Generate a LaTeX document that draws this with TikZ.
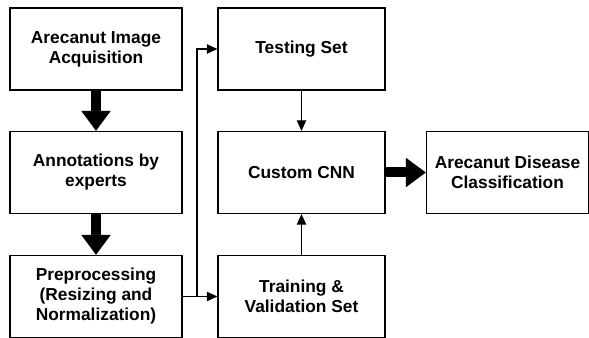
\documentclass[tikz,border=0pt]{standalone}
\usepackage{fontspec}
\setmainfont{Liberation Sans}
\usetikzlibrary{arrows.meta}
\begin{document}
\begin{tikzpicture}[x=0.75pt,y=-0.75pt,
  box/.style={draw, line width=0.8pt, minimum width=172*0.75pt, minimum height=82*0.75pt, align=center, font=\bfseries\fontsize{13pt}{15pt}\selectfont, inner sep=0pt},
  wbox/.style={box, minimum width=167*0.75pt},
  rbox/.style={box, minimum width=162*0.75pt},
  thick arrow/.style={line width=7.5pt, -{Triangle[width=21pt,length=15pt]}},
  thin arrow/.style={line width=1pt, -{Triangle[width=7pt,length=8pt]}}]
\useasboundingbox (0,0) rectangle (589,338);
\node[box] (acq) at (96,49) {Arecanut Image\\Acquisition};
\node[box] (ann) at (96,172.5) {Annotations by\\experts};
\node[box] (pre) at (96,296.5) {Preprocessing\\(Resizing and\\Normalization)};
\node[wbox] (test) at (301.5,49) {Testing Set};
\node[wbox] (cnn) at (301.5,172.5) {Custom CNN};
\node[wbox] (train) at (301.5,296.5) {Training \&\\Validation Set};
\node[rbox] (cls) at (507.5,172.5) {Arecanut Disease\\Classification};
\coordinate (j) at (197,296.5);
\draw[thick arrow] (acq) -- (ann);
\draw[thick arrow] (ann) -- (pre);
\draw[thick arrow] (cnn) -- (cls);
\draw[thin arrow] (pre) -- (train);
\draw[thin arrow] (j) |- (test);
\draw[thin arrow] (test) -- (cnn);
\draw[thin arrow] (train) -- (cnn);
\end{tikzpicture}
\end{document}
